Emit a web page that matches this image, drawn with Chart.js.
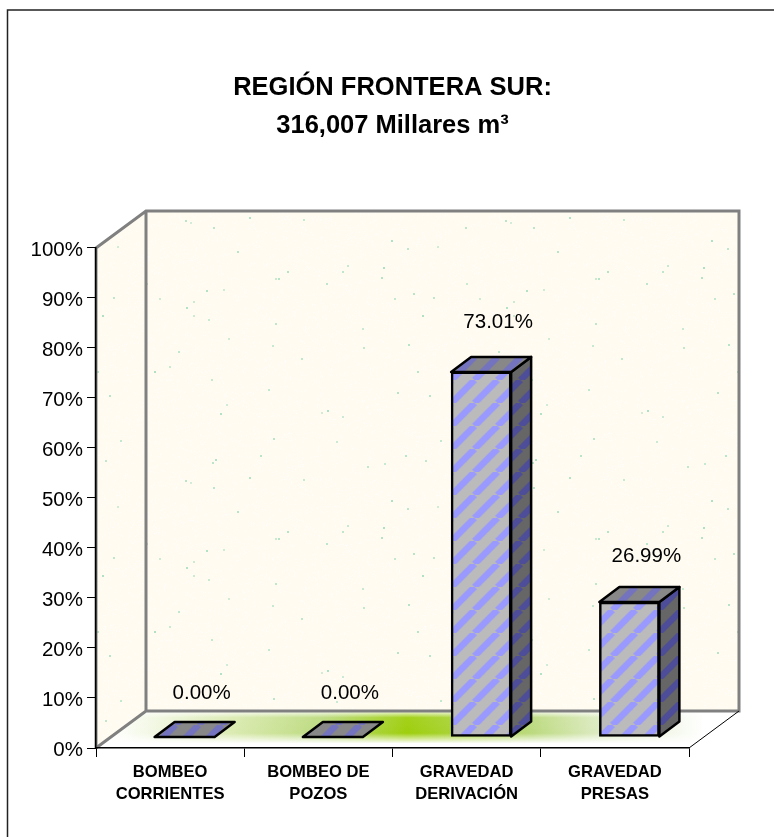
<!DOCTYPE html>
<html>
<head>
<meta charset="utf-8">
<title>Región Frontera Sur</title>
<script src="https://cdn.jsdelivr.net/npm/chart.js@4"></script>
<style>
  html, body { margin: 0; padding: 0; background: #fff; }
  canvas { display: block; }
</style>
</head>
<body>
<canvas id="grafico" width="774" height="837"></canvas>
<script>
const titleLines = ["REGIÓN FRONTERA SUR:", "316,007 Millares m³"];
const categories = [
    ["BOMBEO", "CORRIENTES"],
    ["BOMBEO DE", "POZOS"],
    ["GRAVEDAD", "DERIVACIÓN"],
    ["GRAVEDAD", "PRESAS"]
];
const percentages = [0.00, 0.00, 73.01, 26.99];
const yTicks = [0, 10, 20, 30, 40, 50, 60, 70, 80, 90, 100];

// depth of the fake 3D room and of the bars
const roomDX = 50, roomDY = -37;
const barShiftX = 14.5, barShiftY = -11;
const barDX = 20, barDY = -15;

function stripes(base, stripe) {
    const size = 23;
    const c = document.createElement("canvas");
    c.width = size; c.height = size;
    const g = c.getContext("2d");
    g.fillStyle = base;
    g.fillRect(0, 0, size, size);
    g.strokeStyle = stripe;
    g.lineWidth = 6.5;
    for (let i = -size; i <= size * 2; i += size) {
        g.beginPath();
        g.moveTo(i, size);
        g.lineTo(i + size, 0);
        g.stroke();
    }
    return g.createPattern(c, "repeat");
}

// speckled wallpaper of the walls
function wallPattern() {
    const w = 320, h = 260;
    const c = document.createElement("canvas");
    c.width = w; c.height = h;
    const g = c.getContext("2d");
    g.fillStyle = "#FFFBF0";
    g.fillRect(0, 0, w, h);
    let seed = 7;
    const next = () => (seed = (seed * 16807) % 2147483647) / 2147483647;
    g.fillStyle = "rgba(255,255,255,0.6)";
    for (let i = 0; i < 6000; i++) {
        g.fillRect(Math.floor(next() * w), Math.floor(next() * h), 1, 1);
    }
    for (let i = 0; i < 60; i++) {
        g.fillStyle = "rgba(165,222,190," + (0.5 + next() * 0.4) + ")";
        g.fillRect(Math.floor(next() * w), Math.floor(next() * h), 2, 2);
    }
    return g.createPattern(c, "repeat");
}

function poly(ctx, pts) {
    ctx.beginPath();
    pts.forEach((p, i) => i ? ctx.lineTo(p[0], p[1]) : ctx.moveTo(p[0], p[1]));
    ctx.closePath();
}

const room = {
    id: "room",
    beforeDraw(chart) {
        const ctx = chart.ctx;
        const a = chart.chartArea;
        ctx.save();

        // marco
        ctx.strokeStyle = "#222";
        ctx.lineWidth = 1.5;
        ctx.beginPath();
        ctx.moveTo(7.5, 837);
        ctx.lineTo(7.5, 10);
        ctx.lineTo(774, 10);
        ctx.stroke();

        const backL = a.left + roomDX, backR = a.right + roomDX;
        const backT = a.top + roomDY, backB = a.bottom + roomDY;

        // paredes
        ctx.fillStyle = wallPattern();
        ctx.fillRect(backL, backT, backR - backL, backB - backT);
        poly(ctx, [[a.left, a.top], [backL, backT], [backL, backB], [a.left, a.bottom]]);
        ctx.fill();

        // piso
        const floor = [[a.left, a.bottom], [a.right, a.bottom], [backR, backB], [backL, backB]];
        const gh = ctx.createLinearGradient(a.left + 14, 0, a.right + 15, 0);
        gh.addColorStop(0, "#FFFFFF");
        gh.addColorStop(0.22, "#D6E8A8");
        gh.addColorStop(0.36, "#B8D878");
        gh.addColorStop(0.5, "#99CC00");
        gh.addColorStop(0.71, "#B8D878");
        gh.addColorStop(0.81, "#D8E8B8");
        gh.addColorStop(1, "#FFFFFF");
        poly(ctx, floor);
        ctx.fillStyle = gh;
        ctx.fill();
        const gv = ctx.createLinearGradient(0, backB, 0, a.bottom);
        gv.addColorStop(0, "rgba(255,255,255,0.9)");
        gv.addColorStop(0.18, "rgba(255,255,255,0.1)");
        gv.addColorStop(0.6, "rgba(255,255,255,0.05)");
        gv.addColorStop(0.88, "rgba(255,255,255,1)");
        gv.addColorStop(1, "rgba(255,255,255,1)");
        ctx.fillStyle = gv;
        ctx.fill();

        // bordes grises
        ctx.strokeStyle = "#808080";
        ctx.lineWidth = 3;
        ctx.beginPath();
        ctx.moveTo(a.left, a.top);
        ctx.lineTo(backL, backT);
        ctx.lineTo(backR, backT);
        ctx.lineTo(backR, backB);
        ctx.lineTo(backL, backB);
        ctx.lineTo(a.left, a.bottom);
        ctx.moveTo(backL, backT);
        ctx.lineTo(backL, backB);
        ctx.moveTo(a.left, a.top);
        ctx.lineTo(a.left, a.bottom);
        ctx.stroke();

        ctx.strokeStyle = "#000";
        ctx.lineWidth = 1;
        ctx.beginPath();
        ctx.moveTo(backR, backB);
        ctx.lineTo(a.right, a.bottom);
        ctx.stroke();
        ctx.restore();
    }
};

const bars3d = {
    id: "bars3d",
    beforeDatasetsDraw(chart) {
        const ctx = chart.ctx;
        ctx.save();
        ctx.translate(barShiftX, barShiftY);
        // caras lateral y superior, the front face is the real bar
        const top = stripes("#888888", "#7373BF");
        const side = stripes("#666666", "#4D4D99");
        chart.getDatasetMeta(0).data.forEach(el => {
            const l = el.x - el.width / 2, r = el.x + el.width / 2;
            ctx.lineWidth = 2.5;
            ctx.lineJoin = "round";
            ctx.strokeStyle = "#000";
            if (el.base - el.y > 0.5) {
                poly(ctx, [[r, el.y], [r + barDX, el.y + barDY], [r + barDX, el.base + barDY], [r, el.base]]);
                ctx.fillStyle = side;
                ctx.fill();
                ctx.stroke();
            }
            poly(ctx, [[l, el.y], [l + barDX, el.y + barDY], [r + barDX, el.y + barDY], [r, el.y]]);
            ctx.fillStyle = top;
            ctx.fill();
            ctx.stroke();
        });
    },
    afterDatasetsDraw(chart) {
        const ctx = chart.ctx;
        ctx.restore();
        ctx.save();
        ctx.fillStyle = "#000";
        ctx.font = "20.5px 'Liberation Sans'";
        ctx.textAlign = "center";
        ctx.textBaseline = "middle";
        chart.getDatasetMeta(0).data.forEach((el, i) => {
            const lift = 55 + percentages[i] * 0.08;
            ctx.fillText(percentages[i].toFixed(2) + "%", el.x + barShiftX + 17, el.y - lift);
        });
        ctx.restore();
    }
};

new Chart(document.getElementById("grafico"), {
    type: "bar",
    data: {
        labels: categories,
        datasets: [{
            data: percentages,
            backgroundColor: stripes("#BBBBBB", "#9999FF"),
            borderColor: "#000",
            borderWidth: 2.5,
            borderSkipped: false,
            barThickness: 60,
            clip: false
        }]
    },
    options: {
        responsive: false,
        animation: false,
        layout: { padding: { left: 0, right: 85, top: 0, bottom: 0 } },
        plugins: {
            legend: { display: false },
            tooltip: { enabled: false },
            title: {
                display: true,
                text: titleLines,
                fullSize: false,
                color: "#000",
                font: { family: "'Liberation Sans'", size: 25.5, weight: "bold", lineHeight: 1.49 },
                padding: { top: 69, bottom: 103 }
            }
        },
        scales: {
            x: {
                border: { color: "#000", width: 1.5 },
                grid: { drawOnChartArea: false, color: "#000", tickLength: 9, tickWidth: 1 },
                ticks: {
                    color: "#000",
                    font: { family: "'Liberation Sans'", size: 16.6, weight: "bold", lineHeight: 1.34 },
                    maxRotation: 0,
                    padding: 4
                },
                afterFit(s) { s.height = 89; }
            },
            y: {
                min: 0,
                max: 100,
                afterBuildTicks(s) { s.ticks = yTicks.map(v => ({ value: v })); },
                border: { color: "#000", width: 1.5 },
                grid: { drawOnChartArea: false, color: "#000", tickLength: 9, tickWidth: 1 },
                ticks: {
                    color: "#000",
                    font: { family: "'Liberation Sans'", size: 20.5 },
                    padding: 4,
                    callback: v => v + "%"
                },
                afterFit(s) { s.width = 96; },
                // the labels sit a little under their ticks in the original
                afterUpdate(s) {
                    const draw = s.drawLabels;
                    s.drawLabels = function (area) {
                        s.ctx.save();
                        s.ctx.translate(0, 1);
                        draw.call(s, area);
                        s.ctx.restore();
                    };
                }
            }
        }
    },
    plugins: [room, bars3d]
});
</script>
</body>
</html>
